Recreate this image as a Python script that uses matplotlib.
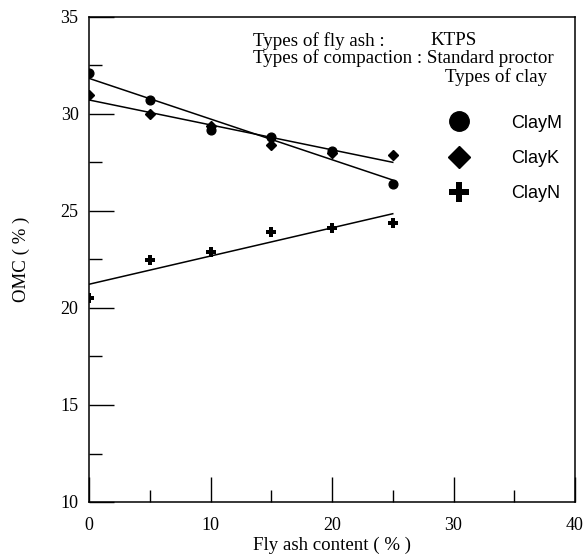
import matplotlib
matplotlib.use('Agg')
import matplotlib.pyplot as plt
import numpy as np
from matplotlib.lines import Line2D

plt.rcParams['font.family'] = 'Liberation Serif'

fly_ash = [0, 5, 10, 15, 20, 25]
clay_m = [32.1, 30.7, 29.2, 28.8, 28.1, 26.4]
clay_k = [31.0, 30.0, 29.4, 28.4, 28.0, 27.9]
clay_n = [20.5, 22.45, 22.9, 23.9, 24.1, 24.4]

fig = plt.figure(figsize=(5.86, 5.57), dpi=100)
ax = fig.add_axes([89/586, 1 - 502/557, 486/586, 485/557])

x = np.array(fly_ash)
# linear trend lines
for y in (clay_m, clay_k, clay_n):
    k, b = np.polyfit(x, y, 1)
    ax.plot([x[0], x[-1]], [b, k * x[-1] + b], color='black', lw=1.1)

ax.plot(fly_ash, clay_m, 'o', color='black', ms=6.3)
ax.plot(fly_ash, clay_k, 'D', color='black', ms=5.3)
ax.plot(fly_ash, clay_n, 'P', color='black', ms=7.5, mew=0)

ax.set_xlim(0, 40)
ax.set_ylim(10, 35)
ax.set_xticks([0, 10, 20, 30, 40])
ax.set_xticks([5, 15, 25, 35], minor=True)
ax.set_yticks([10, 15, 20, 25, 30, 35])
ax.set_yticks([12.5, 17.5, 22.5, 27.5, 32.5], minor=True)
ax.tick_params(which='major', direction='in', length=18, width=1, labelsize=13)
ax.tick_params(which='minor', direction='in', length=9, width=1)
ax.tick_params(axis='x', pad=11)
ax.tick_params(axis='y', pad=7.5)
for s in ax.spines.values():
    s.set_linewidth(1.1)

ax.set_xlabel('Fly ash content ( % )', fontsize=13.6, labelpad=2)
ax.set_ylabel('OMC ( % )', fontsize=13.6, labelpad=22)

fs = 13.7
ax.text(0.338, 0.951, 'Types of fly ash :', transform=ax.transAxes, fontsize=fs, va='center')
ax.text(0.702, 0.951, 'KTPS', transform=ax.transAxes, fontsize=fs, va='center')
ax.text(0.338, 0.916, 'Types of compaction : Standard proctor', transform=ax.transAxes,
        fontsize=fs, va='center')
ax.text(0.943, 0.876, 'Types of clay', transform=ax.transAxes, fontsize=fs,
        va='center', ha='right')

handles = [
    Line2D([], [], marker='o', ls='none', color='black', ms=14),
    Line2D([], [], marker='D', ls='none', color='black', ms=11),
    Line2D([], [], marker='P', ls='none', color='black', ms=15, mew=0),
]
ax.legend(handles, ['ClayM', 'ClayK', 'ClayN'], loc='upper left',
          bbox_to_anchor=(0.7055, 0.817), frameon=False, borderpad=0,
          handlelength=2, handletextpad=1.9, labelspacing=1.0,
          prop={'family': 'Liberation Sans', 'size': 13})

fig.savefig('out.png', dpi=100)
